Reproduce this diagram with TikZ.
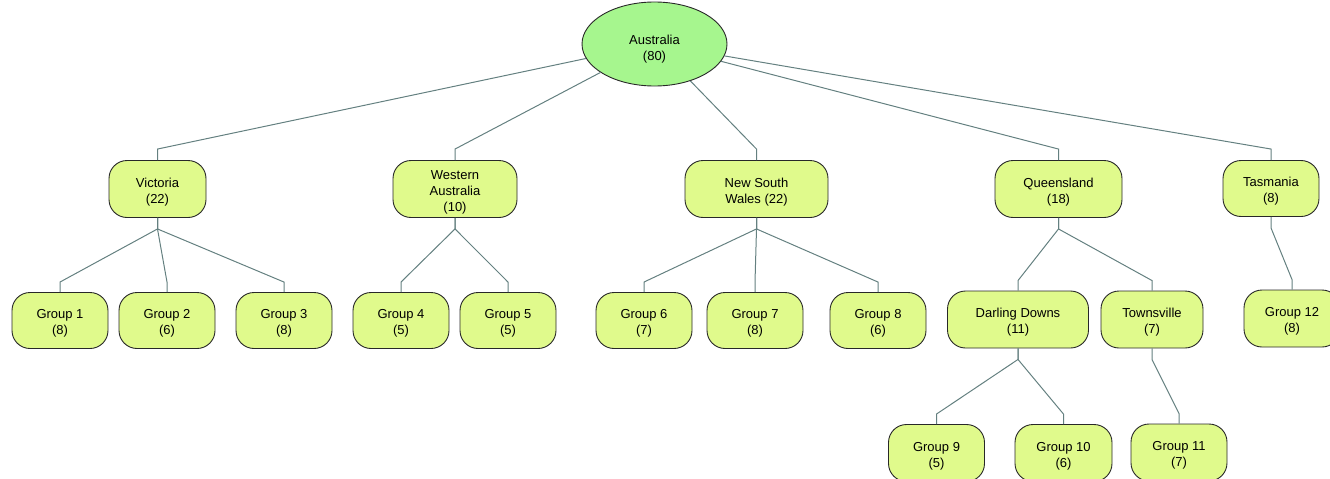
\documentclass[tikz,border=0pt]{standalone}
\usepackage{fontspec}
\setmainfont{Liberation Sans}
\usetikzlibrary{shapes.geometric,calc}
\definecolor{boxfill}{RGB}{224,250,140}
\definecolor{ellfill}{RGB}{166,246,142}
\definecolor{edgecol}{RGB}{100,128,128}
\definecolor{bordercol}{RGB}{40,40,40}
\newcommand{\bstrut}{\rule{0pt}{15.5pt}}
\newcommand{\rstrut}{\rule{0pt}{20.5pt}}
\tikzset{
  box/.style={draw=bordercol, line width=0.9pt, fill=boxfill, rounded corners=18pt,
    minimum height=57pt, minimum width=96pt, inner sep=0pt, align=center,
    font=\fontsize{13}{16}\selectfont},
  root/.style={draw=bordercol, line width=0.9pt, fill=ellfill, ellipse,
    minimum width=145pt, minimum height=84pt, inner sep=0pt, align=center,
    font=\fontsize{13}{16}\selectfont},
  edge/.style={draw=edgecol, line width=1pt}
}
\newcommand{\treeedge}[2]{\draw[edge] (#1.south) -- ++(0,11) -- ($(#2.north)+(0,-10)$) -- (#2.north);}
\newcommand{\rootedge}[2]{\draw[edge] (#1) -- ($(#2.north)+(0,-11)$) -- (#2.north);}
\begin{document}
\begin{tikzpicture}[x=1pt,y=-1pt]
\useasboundingbox (0,0) rectangle (1330,479);
\node[root] (aus) at (654.5,44) {\rstrut Australia\\(80)};
\node[box, minimum width=97pt, minimum height=57pt] (vic) at (157.5,189) {\bstrut Victoria\\(22)};
\node[box, minimum width=124pt, minimum height=57pt] (wa) at (455,189) {\bstrut Western\\Australia\\(10)};
\node[box, minimum width=143pt, minimum height=57pt] (nsw) at (756.5,189) {\bstrut New South\\Wales (22)};
\node[box, minimum width=127pt] (qld) at (1058.5,189) {\bstrut Queensland\\(18)};
\node[box, minimum width=96pt, minimum height=56pt] (tas) at (1271,188.5) {\bstrut Tasmania\\(8)};
\node[box, minimum height=56pt] (g1) at (60,320.5) {\bstrut Group 1\\(8)};
\node[box, minimum height=56pt] (g2) at (167,320.5) {\bstrut Group 2\\(6)};
\node[box, minimum height=56pt] (g3) at (284,320.5) {\bstrut Group 3\\(8)};
\node[box, minimum height=56pt] (g4) at (401,320.5) {\bstrut Group 4\\(5)};
\node[box, minimum height=56pt] (g5) at (508,320.5) {\bstrut Group 5\\(5)};
\node[box, minimum height=56pt] (g6) at (644,320.5) {\bstrut Group 6\\(7)};
\node[box, minimum height=56pt] (g7) at (755,320.5) {\bstrut Group 7\\(8)};
\node[box, minimum height=56pt] (g8) at (878,320.5) {\bstrut Group 8\\(6)};
\node[box, minimum width=141pt] (dd) at (1018,319.5) {\bstrut Darling Downs\\(11)};
\node[box, minimum width=102pt] (tv) at (1152,319.5) {\bstrut Townsville\\(7)};
\node[box] (g12) at (1292,318.5) {\bstrut Group 12\\(8)};
\node[box] (g9) at (936.5,453) {\bstrut Group 9\\(5)};
\node[box, minimum width=97pt] (g10) at (1063.5,453) {\bstrut Group 10\\(6)};
\node[box] (g11) at (1179,452.5) {\bstrut Group 11\\(7)};
\rootedge{aus}{vic}
\rootedge{aus}{wa}
\rootedge{aus}{nsw}
\rootedge{aus}{qld}
\rootedge{aus}{tas}
\treeedge{vic}{g1}
\treeedge{vic}{g2}
\treeedge{vic}{g3}
\treeedge{wa}{g4}
\treeedge{wa}{g5}
\treeedge{nsw}{g6}
\treeedge{nsw}{g7}
\treeedge{nsw}{g8}
\treeedge{qld}{dd}
\treeedge{qld}{tv}
\treeedge{tas}{g12}
\treeedge{dd}{g9}
\treeedge{dd}{g10}
\treeedge{tv}{g11}
\end{tikzpicture}
\end{document}
